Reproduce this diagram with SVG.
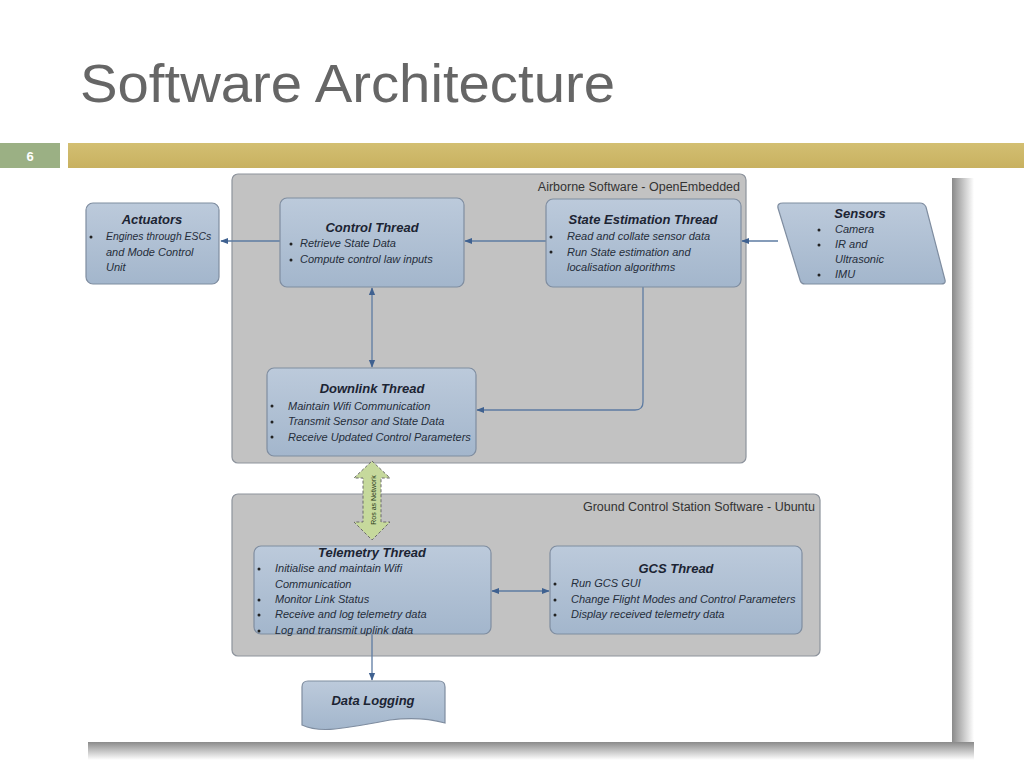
<svg xmlns="http://www.w3.org/2000/svg" width="1024" height="768" viewBox="0 0 1024 768">
<defs>
<linearGradient id="node" x1="0" y1="0" x2="0" y2="1">
<stop offset="0" stop-color="#bccadb"/>
<stop offset="1" stop-color="#a3b6cc"/>
</linearGradient>
<linearGradient id="gold" x1="0" y1="0" x2="0" y2="1">
<stop offset="0" stop-color="#d3bf72"/>
<stop offset="1" stop-color="#c8b160"/>
</linearGradient>
<linearGradient id="shR" x1="0" y1="0" x2="1" y2="0">
<stop offset="0" stop-color="#8a8a8a"/>
<stop offset="1" stop-color="#ffffff"/>
</linearGradient>
<linearGradient id="shB" x1="0" y1="0" x2="0" y2="1">
<stop offset="0" stop-color="#8a8a8a"/>
<stop offset="1" stop-color="#ffffff"/>
</linearGradient>
<marker id="ah" viewBox="0 0 10 10" refX="9" refY="5" markerWidth="8" markerHeight="8" orient="auto-start-reverse" markerUnits="userSpaceOnUse">
<path d="M0,1 L10,5 L0,9 z" fill="#3f6190"/>
</marker>
<style>
.node{fill:url(#node);stroke:#7f8da0;stroke-width:1.2}
.cont{fill:#c2c2c2;stroke:#8d939c;stroke-width:1.2}
.ttl{font-family:"Liberation Sans",Arial,sans-serif;font-weight:bold;font-style:italic;font-size:13px;fill:#1c2433;text-anchor:middle}
.txt{font-family:"Liberation Sans",Arial,sans-serif;font-style:italic;font-size:11px;fill:#252d3a}
.lbl{font-family:"Liberation Sans",Arial,sans-serif;font-size:12.5px;fill:#333;text-anchor:end}
.conn{fill:none;stroke:#5d7ba2;stroke-width:1.3}
.dot{fill:#222}
</style>
</defs>
<rect x="0" y="0" width="1024" height="768" fill="#ffffff"/>
<text x="80" y="102" font-family="'Liberation Sans',Arial,sans-serif" font-size="54" fill="#666666" textLength="535" lengthAdjust="spacingAndGlyphs">Software Architecture</text>
<rect x="0" y="143" width="60" height="25" fill="#9bb084"/>
<text x="30" y="161" font-family="'Liberation Sans',Arial,sans-serif" font-size="13" font-weight="bold" fill="#ffffff" text-anchor="middle">6</text>
<rect x="68" y="143" width="956" height="25" fill="url(#gold)"/>

<!-- diagram canvas with shadow -->
<rect x="952" y="178" width="22" height="580" fill="url(#shR)"/>
<rect x="88" y="742" width="886" height="18" fill="url(#shB)"/>
<rect x="82" y="172" width="870" height="570" fill="#ffffff"/>

<g id="airborne">
<rect class="cont" x="232" y="174" width="514" height="289" rx="6"/>
<text class="lbl" x="740" y="191">Airborne Software - OpenEmbedded</text>
</g>
<g id="ground">
<rect class="cont" x="232" y="494" width="588" height="162" rx="6"/>
<text class="lbl" x="815" y="511">Ground Control Station Software - Ubuntu</text>
</g>

<g id="connectors">
<line class="conn" x1="280" y1="241" x2="221" y2="241" marker-end="url(#ah)"/>
<line class="conn" x1="546" y1="241" x2="465" y2="241" marker-end="url(#ah)"/>
<line class="conn" x1="778" y1="241" x2="742" y2="241" marker-end="url(#ah)"/>
<line class="conn" x1="372" y1="288" x2="372" y2="367" marker-start="url(#ah)" marker-end="url(#ah)"/>
<path class="conn" d="M643,287 L643,402 Q643,410 635,410 L477,410" marker-end="url(#ah)"/>
<line class="conn" x1="492" y1="591" x2="549" y2="591" marker-start="url(#ah)" marker-end="url(#ah)"/>
<line class="conn" x1="372" y1="634" x2="372" y2="680" marker-end="url(#ah)"/>
</g>

<g id="control-thread">
<rect class="node" x="280" y="198" width="184" height="89" rx="7"/>
<text class="ttl" x="372" y="232">Control Thread</text>
<circle class="dot" cx="291" cy="244" r="1.5"/>
<text class="txt" x="300" y="247">Retrieve State Data</text>
<circle class="dot" cx="291" cy="260" r="1.5"/>
<text class="txt" x="300" y="263">Compute control law inputs</text>
</g>

<g id="state-estimation-thread">
<rect class="node" x="546" y="199" width="195" height="88" rx="7"/>
<text class="ttl" x="643" y="224">State Estimation Thread</text>
<circle class="dot" cx="551" cy="237" r="1.5"/>
<text class="txt" x="567" y="240">Read and collate sensor data</text>
<circle class="dot" cx="551" cy="252" r="1.5"/>
<text class="txt" x="567" y="256">Run State estimation and</text>
<text class="txt" x="567" y="271">localisation algorithms</text>
</g>

<g id="actuators">
<rect class="node" x="86" y="203" width="133" height="81" rx="7"/>
<text class="ttl" x="152" y="224">Actuators</text>
<circle class="dot" cx="91" cy="237" r="1.5"/>
<text class="txt" x="106" y="240" style="font-size:10.4px">Engines through ESCs</text>
<text class="txt" x="106" y="256">and Mode Control</text>
<text class="txt" x="106" y="271">Unit</text>
</g>

<g id="sensors">
<path class="node" d="M783,203 L920,203 Q924,203 926,207 L945,280 Q946,284 941,284 L805,284 Q801,284 800,280 L778,208 Q777,203 783,203 z"/>
<text class="ttl" x="860" y="218">Sensors</text>
<circle class="dot" cx="819" cy="230" r="1.5"/>
<text class="txt" x="835" y="233">Camera</text>
<circle class="dot" cx="819" cy="245" r="1.5"/>
<text class="txt" x="835" y="248">IR and</text>
<text class="txt" x="835" y="263">Ultrasonic</text>
<circle class="dot" cx="819" cy="275" r="1.5"/>
<text class="txt" x="835" y="278">IMU</text>
</g>

<g id="downlink-thread">
<rect class="node" x="267" y="368" width="209" height="88" rx="7"/>
<text class="ttl" x="372" y="393">Downlink Thread</text>
<circle class="dot" cx="272" cy="406" r="1.5"/>
<text class="txt" x="288" y="410">Maintain Wifi Communication</text>
<circle class="dot" cx="272" cy="422" r="1.5"/>
<text class="txt" x="288" y="425">Transmit Sensor and State Data</text>
<circle class="dot" cx="272" cy="437" r="1.5"/>
<text class="txt" x="288" y="441">Receive Updated Control Parameters</text>
</g>

<g id="ros-network">
<path d="M372,461 L390,478 L381,478 L381,522 L390,522 L372,540 L354,522 L363,522 L363,478 L354,478 z" fill="#c6d99c" stroke="#6b6b6b" stroke-width="1" stroke-dasharray="3,2"/>
<text transform="translate(376,500) rotate(-90)" font-family="'Liberation Sans',Arial,sans-serif" font-size="7" fill="#2a3a1a" text-anchor="middle">Ros as Network</text>
</g>

<g id="telemetry-thread">
<rect class="node" x="254" y="546" width="237" height="88" rx="7"/>
<text class="ttl" x="372" y="557">Telemetry Thread</text>
<circle class="dot" cx="259" cy="569" r="1.5"/>
<text class="txt" x="275" y="572">Initialise and maintain Wifi</text>
<text class="txt" x="275" y="588">Communication</text>
<circle class="dot" cx="259" cy="600" r="1.5"/>
<text class="txt" x="275" y="603">Monitor Link Status</text>
<circle class="dot" cx="259" cy="615" r="1.5"/>
<text class="txt" x="275" y="618">Receive and log telemetry data</text>
<circle class="dot" cx="259" cy="631" r="1.5"/>
<text class="txt" x="275" y="634">Log and transmit uplink data</text>
</g>

<g id="gcs-thread">
<rect class="node" x="550" y="546" width="252" height="88" rx="7"/>
<text class="ttl" x="676" y="573">GCS Thread</text>
<circle class="dot" cx="555" cy="584" r="1.5"/>
<text class="txt" x="571" y="587">Run GCS GUI</text>
<circle class="dot" cx="555" cy="600" r="1.5"/>
<text class="txt" x="571" y="603">Change Flight Modes and Control Parameters</text>
<circle class="dot" cx="555" cy="615" r="1.5"/>
<text class="txt" x="571" y="618">Display received telemetry data</text>
</g>

<g id="data-logging">
<path class="node" d="M308,681 L439,681 Q445,681 445,687 L445,723 Q420,716 390,720 Q360,726 335,729 Q315,731 302,725 L302,687 Q302,681 308,681 z"/>
<text class="ttl" x="373" y="705">Data Logging</text>
</g>
</svg>
